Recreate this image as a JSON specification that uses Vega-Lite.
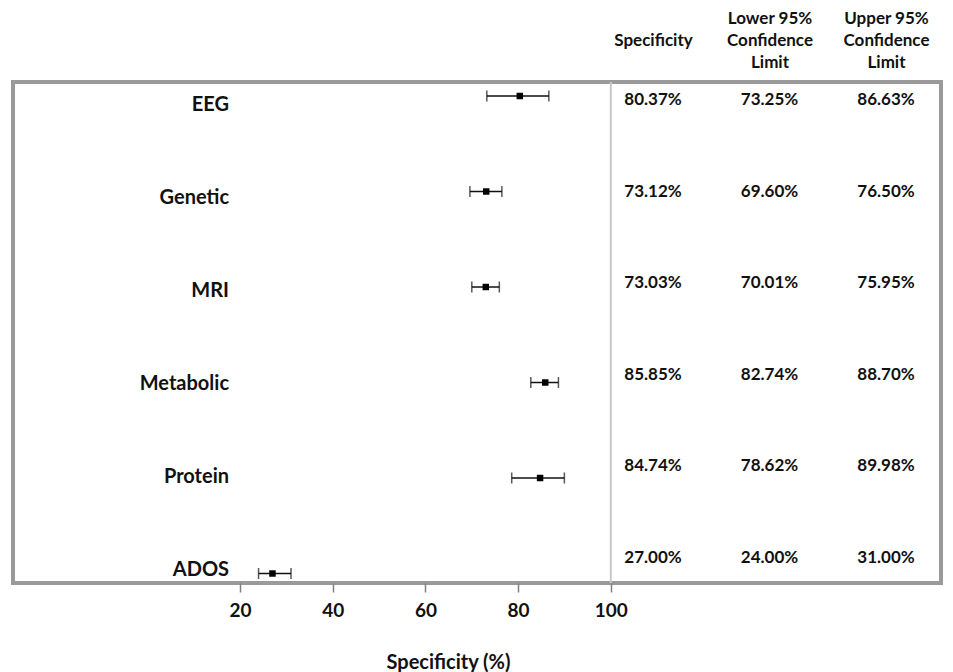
{
  "$schema": "https://vega.github.io/schema/vega-lite/v6.json",
  "width": 928,
  "height": 501,
  "autosize": {"type": "none"},
  "padding": {"left": 13, "top": 82, "right": 12, "bottom": 89},
  "background": "white",
  "config": {
    "view": {"stroke": "#9a9a9a", "strokeWidth": 4},
    "font": "Lato",
    "text": {"font": "Lato"}
  },
  "datasets": {
    "tests": [
      {"test": "EEG", "spec": 80.37, "lower": 73.25, "upper": 86.63},
      {"test": "Genetic", "spec": 73.12, "lower": 69.60, "upper": 76.50},
      {"test": "MRI", "spec": 73.03, "lower": 70.01, "upper": 75.95},
      {"test": "Metabolic", "spec": 85.85, "lower": 82.74, "upper": 88.70},
      {"test": "Protein", "spec": 84.74, "lower": 78.62, "upper": 89.98},
      {"test": "ADOS", "spec": 27.00, "lower": 24.00, "upper": 31.00}
    ]
  },
  "data": {"name": "tests"},
  "layer": [
    {
      "layer": [
        {
          "data": {"values": [{"limit": 100}]},
          "mark": {"type": "rule", "color": "#c8c8c8", "strokeWidth": 2},
          "encoding": {
            "x": {
              "field": "limit",
              "type": "quantitative",
              "scale": {"domain": [-28.98, 171.24], "nice": false, "zero": false},
              "axis": {
                "values": [20, 40, 60, 80, 100],
                "domain": false,
                "grid": false,
                "tickColor": "#808080",
                "tickSize": 9,
                "tickWidth": 1.5,
                "labelFont": "Lato",
                "labelFontSize": 19,
                "labelFontWeight": "bold",
                "labelColor": "#111111",
                "labelPadding": 9,
                "title": "Specificity (%)",
                "titleFont": "Lato",
                "titleFontSize": 20,
                "titleFontWeight": "bold",
                "titleColor": "#111111",
                "titleX": 435,
                "titleY": 79,
                "titleAlign": "center",
                "titleBaseline": "middle"
              }
            }
          }
        },
        {
          "encoding": {
            "y": {
              "field": "test",
              "type": "nominal",
              "sort": ["EEG", "Genetic", "MRI", "Metabolic", "Protein", "ADOS"],
              "scale": {"type": "point", "padding": 0.123, "align": 0.596},
              "axis": null
            }
          },
          "layer": [
            {
              "mark": {"type": "rule", "color": "#111111", "strokeWidth": 1.5},
              "encoding": {
                "x": {"field": "lower", "type": "quantitative"},
                "x2": {"field": "upper"}
              }
            },
            {
              "mark": {"type": "tick", "color": "#111111", "thickness": 1.5, "size": 11, "orient": "vertical"},
              "encoding": {"x": {"field": "lower", "type": "quantitative"}}
            },
            {
              "mark": {"type": "tick", "color": "#111111", "thickness": 1.5, "size": 11, "orient": "vertical"},
              "encoding": {"x": {"field": "upper", "type": "quantitative"}}
            },
            {
              "mark": {"type": "point", "shape": "square", "filled": true, "color": "#000000", "size": 42, "opacity": 1},
              "encoding": {"x": {"field": "spec", "type": "quantitative"}}
            }
          ]
        },
        {
          "mark": {"type": "text", "align": "right", "baseline": "middle", "fontSize": 20, "fontWeight": "bold", "color": "#111111"},
          "encoding": {
            "x": {"datum": 17.63, "type": "quantitative"},
            "y": {
              "field": "test",
              "type": "nominal",
              "sort": ["EEG", "Genetic", "MRI", "Metabolic", "Protein", "ADOS"],
              "scale": {"type": "point", "padding": 0.1935, "align": 0.639},
              "axis": null
            },
            "text": {"field": "test"}
          }
        }
      ],
      "resolve": {"scale": {"y": "independent"}}
    },
    {
      "transform": [
        {"fold": ["spec", "lower", "upper"], "as": ["key", "value"]},
        {"calculate": "indexof(['spec', 'lower', 'upper'], datum.key)", "as": "column"},
        {"calculate": "format(datum.value, '.2f') + '%'", "as": "cell"}
      ],
      "mark": {"type": "text", "align": "center", "baseline": "middle", "fontSize": 17, "fontWeight": "bold", "color": "#111111"},
      "encoding": {
        "x": {
          "field": "column",
          "type": "quantitative",
          "scale": {"domain": [-5.4936, 2.4721], "nice": false, "zero": false},
          "axis": {
            "orient": "top",
            "values": [0, 1, 2],
            "domain": false,
            "ticks": false,
            "grid": false,
            "title": null,
            "labelAngle": 0,
            "labelOverlap": false,
            "labelBound": false,
            "labelFlush": false,
            "labelBaseline": "top",
            "labelExpr": "datum.value == 0 ? ['', 'Specificity'] : datum.value == 1 ? ['Lower 95%', 'Confidence', 'Limit'] : ['Upper 95%', 'Confidence', 'Limit']",
            "labelFont": "Lato",
            "labelFontSize": 17,
            "labelFontWeight": "bold",
            "labelColor": "#111111",
            "labelLineHeight": 22,
            "labelPadding": 72
          }
        },
        "y": {
          "field": "test",
          "type": "nominal",
          "sort": ["EEG", "Genetic", "MRI", "Metabolic", "Protein", "ADOS"],
          "scale": {"type": "point", "padding": 0.2377, "align": 0.414},
          "axis": null
        },
        "text": {"field": "cell"}
      }
    }
  ],
  "resolve": {"scale": {"x": "independent", "y": "independent"}}
}
